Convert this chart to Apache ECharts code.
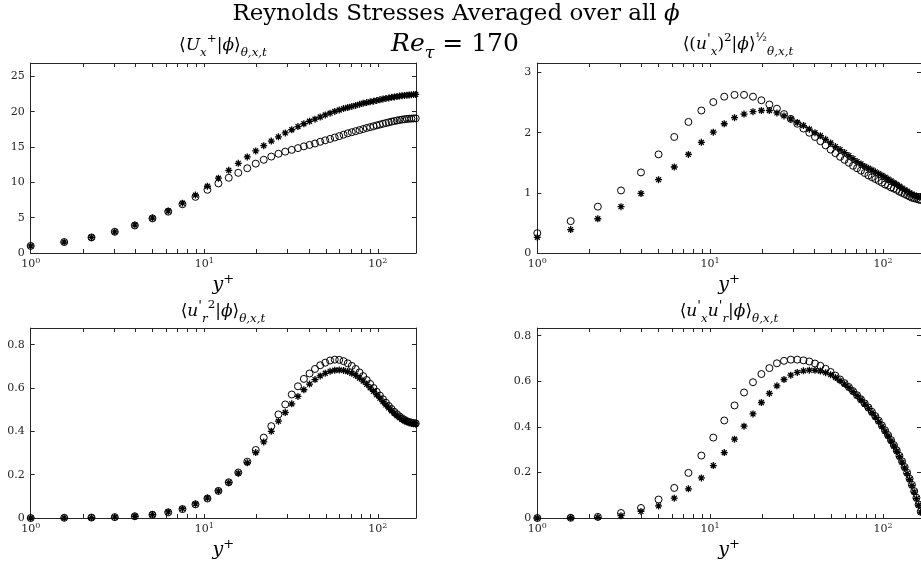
<!DOCTYPE html>
<html><head><meta charset="utf-8">
<script src="https://cdn.jsdelivr.net/npm/echarts@6/dist/echarts.min.js"></script>
<style>html,body{margin:0;padding:0;background:#fff}#c{width:921px;height:567px}</style>
</head><body><div id="c"></div>
<script>
// ---- data ----
const yPlus = [1.00, 1.56, 2.24, 3.05, 3.98, 5.03, 6.20, 7.49, 8.90, 10.43, 12.07, 13.84, 15.71, 17.70, 19.80, 22.02, 24.34, 26.76, 29.29, 31.93, 34.67, 37.50, 40.43, 43.46, 46.58, 49.79, 53.09, 56.48, 59.94, 63.49, 67.12, 70.82, 74.60, 78.44, 82.36, 86.33, 90.37, 94.47, 98.62, 102.82, 107.08, 111.38, 115.72, 120.10, 124.52, 128.97, 133.46, 137.96, 142.50, 147.05, 151.62, 156.20, 160.80, 165.39];

const meanCirc = [1.0,1.55,2.2,3.0,3.9,4.9,5.85,6.9,7.95,8.95, 9.85,10.65,11.35,12.0,12.65,13.2,13.65,14.05,14.35,14.6, 14.85,15.1,15.3,15.5,15.75,15.95,16.15,16.35,16.55,16.75, 16.95,17.1,17.25,17.4,17.55,17.7,17.82,17.95,18.07,18.18, 18.3,18.4,18.5,18.6,18.68,18.76,18.83,18.89,18.94,18.98, 19.01,19.03,19.05,19.06];
const meanStar = [1.0,1.55,2.2,3.0,3.95,4.95,5.95,7.05,8.2,9.45, 10.6,11.7,12.7,13.6,14.45,15.2,15.85,16.45,17.0,17.45, 17.9,18.3,18.65,18.95,19.25,19.55,19.8,20.05,20.25,20.45, 20.6,20.75,20.9,21.05,21.2,21.3,21.4,21.5,21.6,21.7, 21.8,21.88,21.96,22.04,22.1,22.16,22.22,22.27,22.31,22.35, 22.38,22.41,22.43,22.45];

const uxCirc = [0.33,0.53,0.77,1.04,1.34,1.64,1.93,2.18,2.37,2.51, 2.60,2.63,2.63,2.60,2.54,2.47,2.40,2.31,2.23,2.15, 2.07,2.00,1.93,1.86,1.79,1.72,1.66,1.60,1.55,1.50, 1.45,1.41,1.37,1.33,1.29,1.26,1.23,1.20,1.17,1.14, 1.12,1.09,1.07,1.05,1.02,1.00,0.98,0.96,0.94,0.92, 0.91,0.90,0.89,0.88];
const uxStar = [0.26,0.39,0.57,0.77,0.99,1.22,1.43,1.64,1.84,2.01, 2.15,2.25,2.31,2.35,2.37,2.37,2.33,2.28,2.23,2.17, 2.12,2.06,2.00,1.95,1.89,1.83,1.77,1.72,1.67,1.62, 1.57,1.52,1.48,1.44,1.41,1.38,1.35,1.32,1.29,1.26, 1.23,1.20,1.17,1.14,1.11,1.08,1.05,1.03,1.00,0.98, 0.96,0.95,0.94,0.93];

const urCirc = [0.000,0.001,0.002,0.004,0.008,0.015,0.026,0.041,0.063,0.090, 0.125,0.165,0.210,0.260,0.314,0.371,0.424,0.478,0.524,0.570, 0.608,0.642,0.667,0.688,0.705,0.717,0.727,0.731,0.730,0.724, 0.714,0.702,0.688,0.672,0.655,0.637,0.619,0.600,0.582,0.565, 0.548,0.532,0.517,0.503,0.490,0.479,0.469,0.460,0.453,0.447, 0.443,0.440,0.438,0.437];
const urStar = [0.000,0.001,0.002,0.004,0.008,0.016,0.028,0.043,0.065,0.092, 0.125,0.163,0.207,0.255,0.302,0.351,0.400,0.447,0.487,0.527, 0.561,0.592,0.618,0.639,0.656,0.668,0.677,0.682,0.683,0.681, 0.676,0.668,0.658,0.646,0.632,0.617,0.601,0.585,0.569,0.553, 0.537,0.522,0.508,0.495,0.483,0.472,0.463,0.455,0.449,0.444, 0.440,0.437,0.435,0.434];

const uxurCirc = [0.000,0.001,0.005,0.022,0.044,0.081,0.132,0.198,0.274,0.353, 0.428,0.494,0.551,0.596,0.632,0.658,0.679,0.690,0.695,0.695, 0.692,0.687,0.678,0.668,0.655,0.641,0.625,0.608,0.592,0.575, 0.557,0.539,0.521,0.503,0.485,0.466,0.447,0.427,0.406,0.385, 0.364,0.342,0.320,0.297,0.273,0.249,0.224,0.199,0.173,0.146, 0.118,0.089,0.059,0.028];
const uxurStar = [0.000,0.001,0.003,0.010,0.029,0.053,0.087,0.128,0.176,0.230, 0.287,0.346,0.403,0.457,0.507,0.547,0.580,0.608,0.627,0.639, 0.646,0.649,0.648,0.645,0.638,0.629,0.617,0.603,0.588,0.572, 0.555,0.537,0.519,0.500,0.481,0.462,0.443,0.423,0.402,0.381, 0.360,0.338,0.316,0.293,0.269,0.245,0.220,0.195,0.169,0.142, 0.114,0.085,0.056,0.026];

const xTickValues = [1, 10, 100];
const xTickExp = ['0', '1', '2'];
const minorTickValues = [2,3,4,5,6,7,8,9,20,30,40,50,60,70,80,90];
const xMin = 1, xMax = 166;
const yMaxes = [26.9, 3.16, 0.877, 0.834];
const yIntervals = [5, 1, 0.2, 0.2];

const panelTitles = [
  '{n|⟨}{i|U}{sb|x}{sp|+}{n||}{i|ϕ}{n|⟩}{sb|θ,x,t}',
  '{n|⟨(}{i|u}{pr|\'}{sb|x}{n|)}{sp|2}{n||}{i|ϕ}{n|⟩}{sp|½}{sb|θ,x,t}',
  '{n|⟨}{i|u}{pr|\'}{sb|r}{sp|2}{n||}{i|ϕ}{n|⟩}{sb|θ,x,t}',
  '{n|⟨}{i|u}{pr|\'}{sb|x}{i|u}{pr|\'}{sb|r}{n||}{i|ϕ}{n|⟩}{sb|θ,x,t}'
];
const circSeries = [meanCirc, uxCirc, urCirc, uxurCirc];
const starSeries = [meanStar, uxStar, urStar, uxurStar];

// ---- layout / style ----
const FONT = 'DejaVu Serif';
const AX = '#262626';
const grids = [
  {left: 30.7, top: 63, width: 385.3, height: 190},
  {left: 537.3, top: 63, width: 384.5, height: 190},
  {left: 30.7, top: 328, width: 385.3, height: 190},
  {left: 537.3, top: 328, width: 384.5, height: 190}
];
const titlePos = [[223, 46], [738, 45], [223, 312], [729, 312]];

function richMath(fs) {
  return {
    n: {fontFamily: FONT, fontSize: fs, lineHeight: fs * 1.5, color: '#000'},
    i: {fontFamily: FONT, fontSize: fs, fontStyle: 'italic', lineHeight: fs * 1.5, color: '#000'},
    pr: {fontFamily: FONT, fontSize: fs * 0.8, lineHeight: fs * 1.1, verticalAlign: 'top', color: '#000'},
    sb: {fontFamily: FONT, fontSize: fs * 0.7, fontStyle: 'italic', lineHeight: fs * 0.7, verticalAlign: 'bottom', color: '#000'},
    sp: {fontFamily: FONT, fontSize: fs * 0.7, lineHeight: fs * 0.7, verticalAlign: 'top', color: '#000'}
  };
}

const starPath = 'path://M5 0 L5 10 M0 5 L10 5 M1.5 1.5 L8.5 8.5 M1.5 8.5 L8.5 1.5';

const xAxes = [], yAxes = [], series = [];
for (let g = 0; g < 4; g++) {
  const base = {
    type: 'log', logBase: 10, gridIndex: g, min: xMin, max: xMax,
    axisLine: {show: true, onZero: false, lineStyle: {color: AX, width: 1}},
    axisTick: {show: true, inside: true, length: 4, lineStyle: {color: AX}},
    splitLine: {show: false}, minorTick: {show: false}
  };
  xAxes.push(Object.assign({}, base, {
    position: 'bottom',
    name: '{i|y}{sp|+}', nameLocation: 'middle', nameGap: 20,
    nameTextStyle: {rich: {
      i: {fontFamily: FONT, fontSize: 19, fontStyle: 'italic', lineHeight: 24, color: '#000'},
      sp: {fontFamily: FONT, fontSize: 13, lineHeight: 13, verticalAlign: 'top', color: '#000'}
    }},
    axisLabel: {
      show: true, margin: 4, showMaxLabel: false,
      formatter: function (v) {
        const k = xTickValues.findIndex(t => Math.abs(t - v) < 1e-6 * t);
        return k < 0 ? '' : '{b|10}{s|' + xTickExp[k] + '}';
      },
      rich: {
        b: {fontFamily: FONT, fontSize: 11, lineHeight: 15, color: AX},
        s: {fontFamily: FONT, fontSize: 8, lineHeight: 8, verticalAlign: 'top', color: AX}
      }
    }
  }));
  xAxes.push(Object.assign({}, base, {position: 'top', axisLabel: {show: false}}));
  const ybase = {
    type: 'value', gridIndex: g, min: 0, max: yMaxes[g], interval: yIntervals[g],
    axisLine: {show: true, onZero: false, lineStyle: {color: AX, width: 1}},
    axisTick: {show: true, inside: true, length: 4, lineStyle: {color: AX}},
    splitLine: {show: false}
  };
  yAxes.push(Object.assign({}, ybase, {
    position: 'left',
    axisLabel: {show: true, margin: 6, showMaxLabel: false, fontFamily: FONT, fontSize: 11, color: AX}
  }));
  yAxes.push(Object.assign({}, ybase, {position: 'right', axisLabel: {show: false}}));

  series.push({
    type: 'scatter', xAxisIndex: 2 * g, yAxisIndex: 2 * g, silent: true,
    symbol: 'circle', symbolSize: 7,
    itemStyle: {color: 'rgba(0,0,0,0)', borderColor: '#000', borderWidth: 1, opacity: 1},
    data: yPlus.map((x, k) => [x, circSeries[g][k]])
  });
  series.push({
    type: 'scatter', xAxisIndex: 2 * g, yAxisIndex: 2 * g, silent: true,
    symbol: starPath, symbolSize: 7,
    itemStyle: {color: '#000', borderColor: '#000', borderWidth: 1.3, opacity: 1},
    data: yPlus.map((x, k) => [x, starSeries[g][k]])
  });
  series.push({
    type: 'custom', xAxisIndex: 2 * g, yAxisIndex: 2 * g, silent: true, clip: false,
    data: minorTickValues.map(v => [v, 0]),
    renderItem: function (params, api) {
      const cs = params.coordSys;
      const px = Math.round(api.coord([api.value(0), 0])[0]) + 0.5;
      const b = cs.y + cs.height, t = cs.y;
      return {type: 'group', children: [
        {type: 'line', shape: {x1: px, y1: b, x2: px, y2: b - 4}, style: {stroke: AX, lineWidth: 1}},
        {type: 'line', shape: {x1: px, y1: t, x2: px, y2: t + 4}, style: {stroke: AX, lineWidth: 1}}
      ]};
    }
  });
}

const graphics = [
  {type: 'text', x: 456, y: 14, style: {
    text: '{n|Reynolds Stresses Averaged over all }{i|ϕ}', align: 'center', verticalAlign: 'middle',
    rich: {
      n: {fontFamily: FONT, fontSize: 23, color: '#000'},
      i: {fontFamily: FONT, fontSize: 23, fontStyle: 'italic', color: '#000'}
    }
  }},
  {type: 'text', x: 455, y: 44, style: {
    text: '{i|Re}{sb|τ}{n| = 170}', align: 'center', verticalAlign: 'middle',
    rich: richMath(25)
  }}
];
for (let g = 0; g < 4; g++) {
  graphics.push({type: 'text', x: titlePos[g][0], y: titlePos[g][1], style: {
    text: panelTitles[g], align: 'center', verticalAlign: 'middle', rich: richMath(17)
  }});
}

const chart = echarts.init(document.getElementById('c'), null, {renderer: 'canvas'});
chart.setOption({
  animation: false,
  backgroundColor: '#fff',
  grid: grids.map(g => Object.assign({containLabel: false}, g)),
  xAxis: xAxes,
  yAxis: yAxes,
  series: series,
  graphic: graphics
});
</script></body></html>
